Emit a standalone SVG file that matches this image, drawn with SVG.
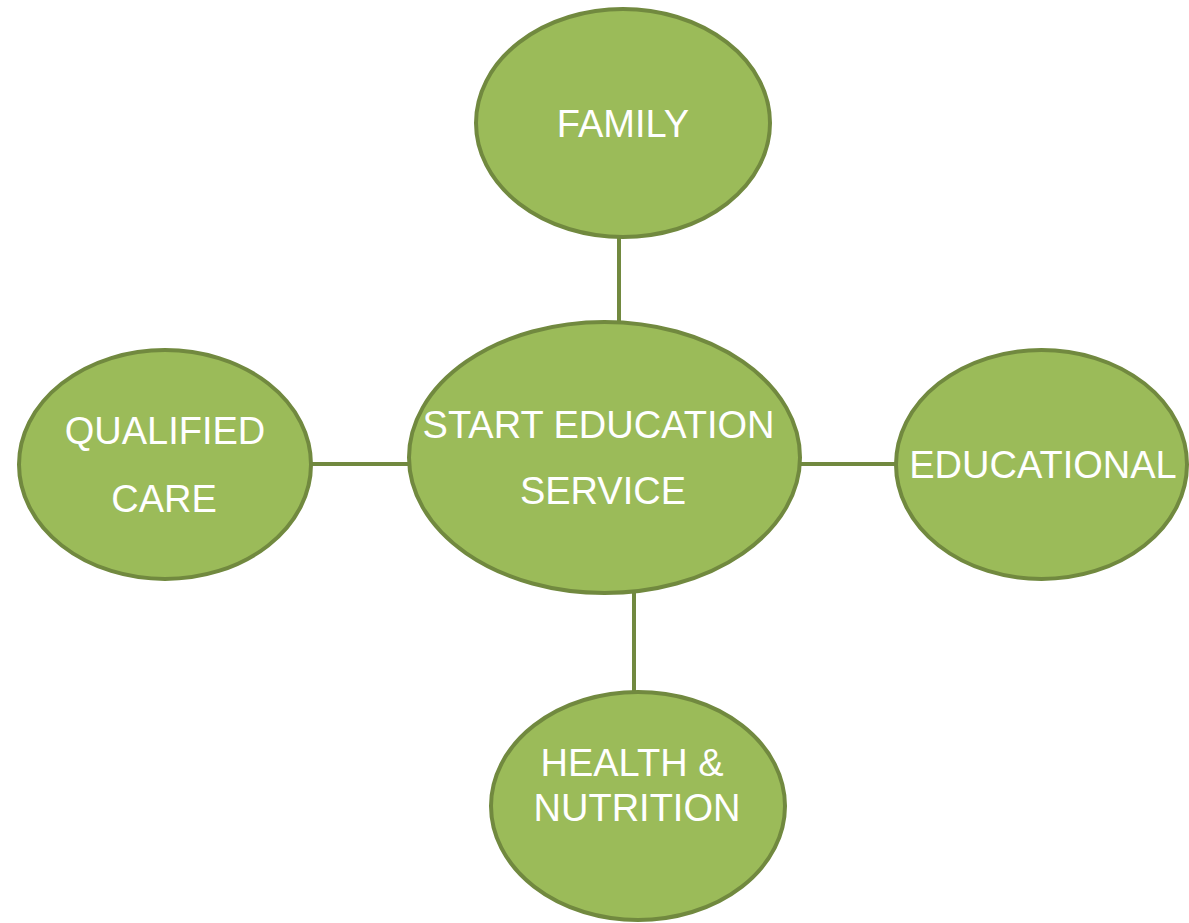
<svg xmlns="http://www.w3.org/2000/svg" width="1189" height="923" viewBox="0 0 1189 923">
<style>
.node{fill:#9BBB59;stroke:#71893F;stroke-width:4}
.conn{stroke:#71893F;stroke-width:4;fill:none}
.lbl{font-family:"Liberation Sans",Arial,sans-serif;font-size:38px;fill:#FFFFFF;text-anchor:middle}
</style>
<rect width="1189" height="923" fill="#FFFFFF"/>
<g id="connectors">
<line class="conn" x1="619" y1="237" x2="619" y2="323"/>
<line class="conn" x1="311" y1="464" x2="409" y2="464"/>
<line class="conn" x1="800" y1="464" x2="896" y2="464"/>
<line class="conn" x1="634" y1="592" x2="634" y2="692"/>
</g>
<g id="family">
<ellipse class="node" cx="623" cy="123" rx="147" ry="114"/>
<text class="lbl" x="623" y="137">FAMILY</text>
</g>
<g id="qualified-care">
<ellipse class="node" cx="165" cy="464.5" rx="146" ry="114.5"/>
<text class="lbl" x="165" y="444">QUALIFIED</text>
<text class="lbl" x="164" y="512">CARE</text>
</g>
<g id="educational">
<ellipse class="node" cx="1041.5" cy="464.5" rx="145.5" ry="114.5"/>
<text class="lbl" x="1043" y="478">EDUCATIONAL</text>
</g>
<g id="health-nutrition">
<ellipse class="node" cx="638" cy="806" rx="147" ry="114"/>
<text class="lbl" x="632" y="776">HEALTH &amp;</text>
<text class="lbl" x="637" y="821">NUTRITION</text>
</g>
<g id="start-education-service">
<ellipse class="node" cx="604.5" cy="457.5" rx="195.5" ry="135.5"/>
<text class="lbl" x="598.5" y="438">START EDUCATION</text>
<text class="lbl" x="603" y="504">SERVICE</text>
</g>
</svg>
